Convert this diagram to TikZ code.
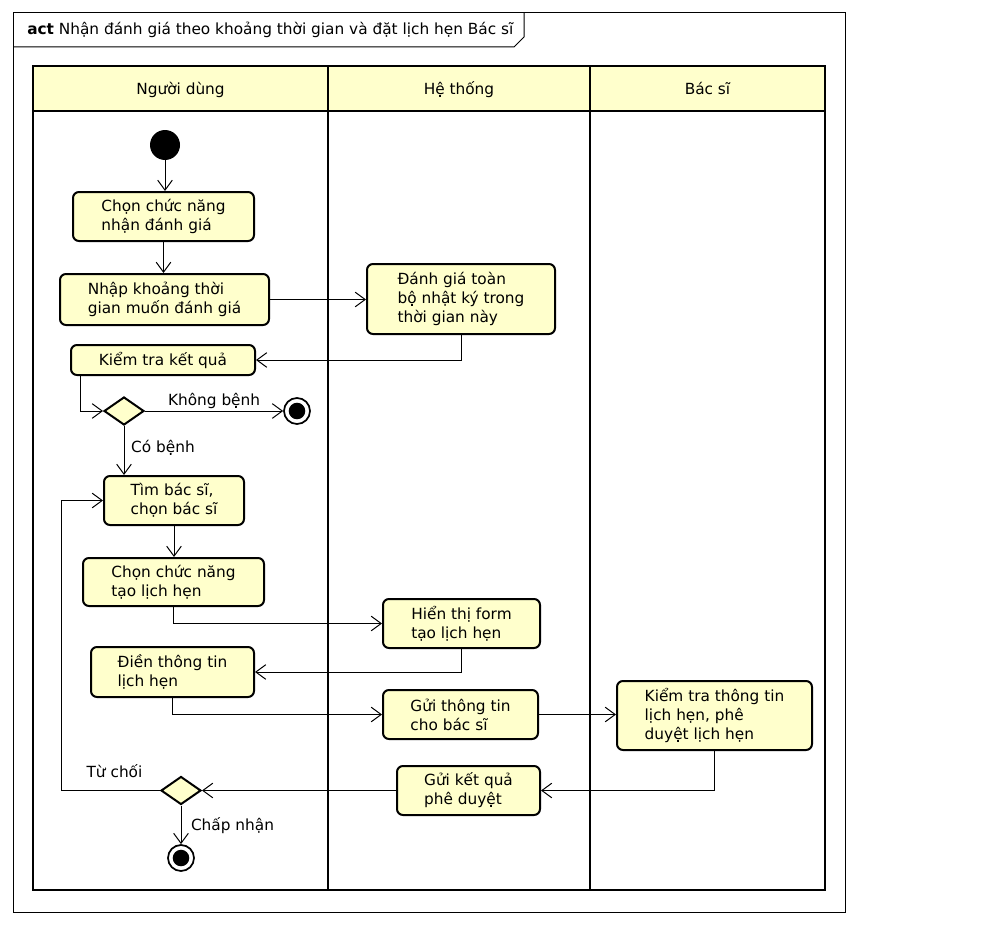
\documentclass[tikz,border=0pt]{standalone}
\usepackage{fontspec}
\setmainfont{DejaVu Sans}
\usetikzlibrary{arrows.meta,shapes.geometric,calc}
\definecolor{actfill}{RGB}{255,255,204}
\begin{document}
\begin{tikzpicture}[x=0.75pt,y=-0.75pt,
  every node/.style={font=\fontsize{11.5}{14.3}\selectfont},
  act/.style 2 args={draw, rounded corners=4.5pt, line width=1.5pt, fill=actfill, align=left, inner sep=0pt,
     minimum width=#1*0.75pt, minimum height=#2*0.75pt},
  arr/.style={-{Straight Barb[length=7.5pt,width=11pt]}, line width=0.75pt},
  decision/.style={draw, shape=diamond, fill=actfill, line width=1.5pt, inner sep=0pt, minimum width=30pt, minimum height=21pt},
  startnode/.style={circle, fill=black, inner sep=0pt, minimum size=22.5pt},
  finalnode/.style={circle, draw, line width=1.3pt, fill=white, inner sep=0pt, minimum size=19.5pt,
     path picture={\fill[black] (path picture bounding box.center) circle (6.2pt);}},
  lbl/.style={inner sep=1pt},
  lanehead/.style={anchor=base, inner sep=0pt}
]
\useasboundingbox (0,0) rectangle (1005,924);
% frame
\draw[line width=0.75pt] (13,13) rectangle (845,912);
\draw[line width=0.75pt] (13,47) -- (514,47) -- (524,37) -- (524,13);
\node[anchor=west, inner sep=0pt] (title) at (27,30) {\textbf{act} Nhận đánh giá theo khoảng thời gian và đặt lịch hẹn Bác sĩ};
% lanes
\fill[actfill] (33,66) rectangle (825,111);
\draw[line width=1.5pt] (33,66) rectangle (825,890);
\draw[line width=1.5pt] (33,111) -- (825,111);
\draw[line width=1.5pt] (328,66) -- (328,890);
\draw[line width=1.5pt] (590,66) -- (590,890);
\node[lanehead] (h1) at (180.5,94) {Người dùng};
\node[lanehead] (h2) at (459,94) {Hệ thống};
\node[lanehead] (h3) at (707.5,94) {Bác sĩ};
% nodes
\node[startnode] (S) at (165,145) {};
\node[act={181}{49}] (A1) at (163.5,216.5) {Chọn chức năng\\nhận đánh giá};
\node[act={209}{51}] (A2) at (164.5,299.5) {Nhập khoảng thời\\gian muốn đánh giá};
\node[act={188}{70}] (A3) at (461,299) {Đánh giá toàn\\bộ nhật ký trong\\thời gian này};
\node[act={184}{30}] (A4) at (163,360) {Kiểm tra kết quả};
\node[decision] (D1) at (124,411) {};
\node[finalnode] (F1) at (297,411) {};
\node[act={140}{49}] (A5) at (174,500.5) {Tìm bác sĩ,\\chọn bác sĩ};
\node[act={181}{48}] (A6) at (173.5,582) {Chọn chức năng\\tạo lịch hẹn};
\node[act={157}{49}] (A7) at (461.5,623.5) {Hiển thị form\\tạo lịch hẹn};
\node[act={163}{50}] (A8) at (172.5,672) {Điền thông tin\\lịch hẹn};
\node[act={155}{49}] (A9) at (460.5,714.5) {Gửi thông tin\\cho bác sĩ};
\node[act={195}{69}] (A10) at (714.5,715.5) {Kiểm tra thông tin\\lịch hẹn, phê\\duyệt lịch hẹn};
\node[act={143}{49}] (A11) at (468.5,790.5) {Gửi kết quả\\phê duyệt};
\node[decision] (D2) at (181,790.5) {};
\node[finalnode] (F2) at (181,858) {};
\coordinate (R) at (61,500.5);
% connectors
\draw[arr] (S) -- (S |- A1.north);
\draw[arr] (A1.south) -- (A1.south |- A2.north);
\draw[arr] (A2.east) -- (A2.east -| A3.west);
\draw[arr] (A3.south) |- (A4.east);
\draw[arr] ([xshift=7.5pt]A4.south west) |- (D1.west);
\draw[arr] (D1.east) -- (F1.west) node[lbl, midway, above] (l1) {Không bệnh};
\draw[arr] (D1.south) -- (D1.south |- A5.north) node[lbl, pos=0.45, right=4pt] (l2) {Có bệnh};
\draw[arr] (A5.south) -- (A5.south |- A6.north);
\draw[arr] (A6.south) |- (A7.west);
\draw[arr] (A7.south) |- (A8.east);
\draw[arr] (A8.south) |- (A9.west);
\draw[arr] (A9.east) -- (A9.east -| A10.west);
\draw[arr] (A10.south) |- (A11.east);
\draw[arr] (A11.west) -- (D2.east);
\draw[arr] (D2.west) -| (R) -- (A5.west);
\node[lbl] (l3) at (114.5,771) {Từ chối};
\draw[arr] (D2.south) -- (F2.north);
\node[lbl] (l4) at (232.5,826) {Chấp nhận};
\end{tikzpicture}
\end{document}
